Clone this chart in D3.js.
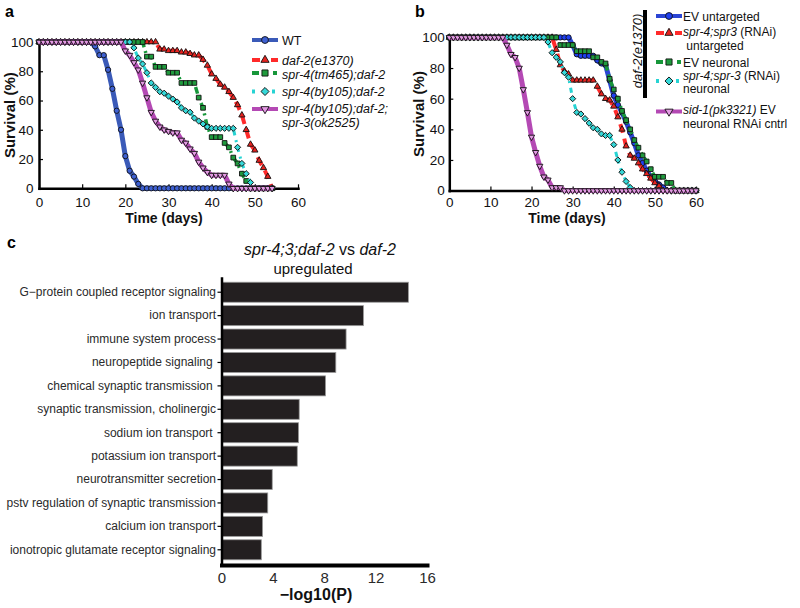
<!DOCTYPE html>
<html><head><meta charset="utf-8">
<script src="https://cdn.jsdelivr.net/npm/d3@7"></script>
<style>
body{margin:0;background:#fff}
svg text{font-family:"Liberation Sans",Arial,Helvetica,sans-serif;white-space:pre}
</style>
</head><body>
<svg id="fig" width="800" height="608"></svg>
<script>
// ---------------- DATA ----------------
const xTicks = [0, 10, 20, 30, 40, 50, 60];
const yTicks = [0, 20, 40, 60, 80, 100];

// Panel a: survival (%) per day, day index = position (day 0 .. 54)
const wtA = [
 100,100,100,100,100,100,100,100,100,100,
 100,100,100, 97, 91, 91, 81, 68, 53, 40,
  22, 12,  8,  3,  0,  0,  0,  0,  0,  0,
   0,  0,  0,  0,  0,  0,  0,  0,  0,  0,
   0,  0,  0,  0,  0,  0,  0,  0,  0,  0,
   0,  0,  0,  0,  0];
const daf2A = [
 100,100,100,100,100,100,100,100,100,100,
 100,100,100,100,100,100,100,100,100,100,
 100,100,100,100,100,100,100,100, 95, 95,
  94, 94, 94, 93, 93, 92, 91, 91, 88, 84,
  78, 75, 71, 69, 66, 62, 57, 50, 40, 30,
  26, 19, 14,  8,  0];
const tm465A = [
 100,100,100,100,100,100,100,100,100,100,
 100,100,100,100,100,100,100,100,100,100,
 100,100,100,100,100, 90, 90, 83, 83, 83,
  79, 79, 79, 72, 72, 72, 72, 62, 55, 42,
  35, 35, 35, 31, 28, 21, 17, 10,  5,  0,
   0,  0,  0,  0,  0];
const by105A = [
 100,100,100,100,100,100,100,100,100,100,
 100,100,100,100,100,100,100,100,100,100,
 100,100, 96, 89, 85, 79, 72, 69, 66, 65,
  63, 61, 59, 55, 53, 52, 48, 46, 44, 42,
  41, 41, 41, 41, 41, 41, 28, 17, 10,  4,
   0,  0,  0,  0,  0];
const spr3A = [
 100,100,100,100,100,100,100,100,100,100,
 100,100,100,100,100,100,100,100,100,100,
  94, 91, 86, 81, 72, 62, 52, 46, 42, 40,
  39, 38, 38, 33, 31, 27, 24, 18, 14, 11,
   9,  9,  9,  9,  3,  0,  0,  0,  0,  0,
   0,  0,  0,  0,  0];

// Panel b: survival (%) per day (day 0 .. 60)
const evUntargetedB = [
 100,100,100,100,100,100,100,100,100,100,
 100,100,100,100,100,100,100,100,100,100,
 100,100,100,100,100,100,100,100,100,100,
  95, 89, 88, 88, 88, 88, 85, 83, 82, 72,
  62, 56, 51, 45, 38, 31, 23, 18, 13,  9,
   6,  4,  2,  0,  0,  0,  0,  0,  0,  0, 0];
const sprUntargetedB = [
 100,100,100,100,100,100,100,100,100,100,
 100,100,100,100,100,100,100,100,100,100,
 100,100,100,100,100,100, 92, 82, 78, 76,
  72, 72, 72, 72, 72, 72, 68, 63, 60, 59,
  55, 48, 40, 29, 23, 21, 18, 14, 11,  8,
   5,  3,  0,  0,  0,  0,  0,  0,  0,  0, 0];
const evNeuronalB = [
 100,100,100,100,100,100,100,100,100,100,
 100,100,100,100,100,100,100,100,100,100,
 100,100,100,100,100,100,100, 95, 95, 95,
  95, 91, 91, 91, 91, 87, 87, 84, 83, 73,
  66, 60, 52, 46, 40, 33, 28, 23, 19, 14,
   9,  9,  9,  5,  5,  0,  0,  0,  0,  0, 0];
const sprNeuronalB = [
 100,100,100,100,100,100,100,100,100,100,
 100,100,100,100,100,100,100,100,100,100,
 100,100,100,100, 97, 90, 87, 84, 77, 74,
  60, 51, 50, 47, 44, 41, 40, 37, 36, 36,
  30, 20, 12,  6,  2,  0,  0,  0,  0,  0,
   0,  0,  0,  0,  0,  0,  0,  0,  0,  0, 0];
const sid1B = [
 100,100,100,100,100,100,100,100,100,100,
 100,100,100,100, 95, 89, 87, 80, 66, 51,
  35, 25, 16,  9,  7,  2,  2,  2,  0,  0,
   0,  0,  0,  0,  0,  0,  0,  0,  0,  0,
   0,  0,  0,  0,  0,  0,  0,  0,  0,  0,
   0,  0,  0,  0,  0,  0,  0,  0,  0,  0, 0];

const legendA = [["WT"], ["*daf-2(e1370)*"], ["*spr-4(tm465);daf-2*"], ["*spr-4(by105);daf-2*"],
                 ["*spr-4(by105);daf-2;*", "*spr-3(ok2525)*"]];
const legendB = [["EV untargeted"], ["*spr-4;spr3* (RNAi)", " untargeted"], ["EV neuronal"],
                 ["*spr-4;spr-3* (RNAi)", "neuronal"], ["*sid-1(pk3321)* EV", "neuronal RNAi cntrl"]];
const bracketLabel = "*daf-2(e1370)*";

// Panel c
const goTerms = [
 "G\u2212protein coupled receptor signaling", "ion transport", "immune system process",
 "neuropeptide signaling ", "chemical synaptic transmission ", "synaptic transmission, cholinergic",
 "sodium ion transport ", "potassium ion transport", "neurotransmitter secretion",
 "pstv regulation of synaptic transmission", "calcium ion transport", "ionotropic glutamate receptor signaling"];
const goValues = [14.55, 11.05, 9.7, 8.9, 8.1, 6.05, 6.0, 5.9, 3.95, 3.6, 3.2, 3.1];
const cTicks = [0, 4, 8, 12, 16];

// ---------------- DRAWING ----------------
const svg = d3.select("#fig");
const K = "#111";

function rich(sel, str) {
  str.split("*").forEach((p, i) => {
    if (p.length) sel.append("tspan").attr("font-style", i % 2 ? "italic" : "normal").text(p);
  });
}
function styleAxis(sel, fs, dw) {
  sel.attr("font-family", null).attr("font-size", null);
  sel.select(".domain").attr("stroke", "#000").attr("stroke-width", dw).attr("stroke-linecap", "square");
  sel.selectAll(".tick line").attr("stroke", "#000").attr("stroke-width", 1.2);
  sel.selectAll(".tick text").attr("font-size", fs).attr("fill", K);
}

function mkStyles(cols) {
  return [
    {line: cols[0], fill: cols[1], sym: d3.symbolCircle, size: 22, w: 5, dash: null, legDash: null},
    {line: "#ff2a2a", fill: "#e6221e", sym: d3.symbolTriangle, size: 17, w: 4, dash: "9,6", legDash: "8,11,8"},
    {line: "#17973a", fill: "#1f9a3d", sym: d3.symbolSquare, size: 22, w: 3.5, dash: "7,4,2,4", legDash: "7,14,4"},
    {line: "#27d3d3", fill: "#35d8d8", sym: d3.symbolSquare, size: 19, w: 3, dash: "5,5,2,5", legDash: "3,17,3", rot: 45},
    {line: "#b449b4", fill: "#e49ae4", sym: d3.symbolTriangle, size: 17, w: 5, dash: null, legDash: null, rot: 180}
  ];
}

function marker(g, st, cx, cy, scale) {
  g.append("path")
    .attr("transform", `translate(${cx},${cy})` + (st.rot ? ` rotate(${st.rot})` : ""))
    .attr("d", d3.symbol(st.sym, st.size * (scale || 1))())
    .attr("fill", st.fill).attr("stroke", K).attr("stroke-width", 0.9);
}

function survivalPanel(o) {
  const g = svg.append("g");
  const x = d3.scaleLinear().domain([0, 60]).range([o.x0, o.x1]);
  const y = d3.scaleLinear().domain([0, 100]).range([o.y0, o.y1]);

  g.append("g").attr("transform", `translate(0,${o.y0})`)
    .call(d3.axisBottom(x).tickValues(xTicks).tickSizeInner(-4).tickSizeOuter(0).tickPadding(o.xpad))
    .call(s => styleAxis(s, 13.5, 2.5));
  g.append("g").attr("transform", `translate(${o.x0},0)`)
    .call(d3.axisLeft(y).tickValues(yTicks).tickSizeInner(-4).tickSizeOuter(0).tickPadding(o.ypad))
    .call(s => styleAxis(s, 13.5, 2.5));

  const line = d3.line().x((d, i) => x(i)).y(d => y(d));
  o.series.forEach((vals, k) => {
    const st = o.styles[k];
    g.append("path").attr("d", line(vals)).attr("fill", "none")
      .attr("stroke", st.line).attr("stroke-width", st.w)
      .attr("stroke-dasharray", st.dash).attr("stroke-linejoin", "round");
    const mg = g.append("g");
    vals.forEach((v, i) => marker(mg, st, x(i), y(v)));
  });

  g.append("text").attr("x", o.tx).attr("y", o.ty).attr("text-anchor", "middle")
    .attr("font-size", 14).attr("font-weight", "bold").attr("fill", K).text("Time (days)");
  g.append("text").attr("transform", `translate(${o.sx},${(o.y0 + o.y1) / 2}) rotate(-90)`)
    .attr("text-anchor", "middle").attr("dy", "0.35em")
    .attr("font-size", 15).attr("font-weight", "bold").attr("fill", K).text("Survival (%)");
  g.append("text").attr("x", o.lx).attr("y", 17).attr("font-size", 16).attr("font-weight", "bold").text(o.letter);

  // legend
  const lg = svg.append("g");
  o.legend.forEach((lines, k) => {
    const st = o.styles[k];
    const ly = o.legY[k];
    lg.append("line").attr("x1", o.legX0).attr("x2", o.legX0 + 26).attr("y1", ly).attr("y2", ly)
      .attr("stroke", st.line).attr("stroke-width", 4).attr("stroke-dasharray", st.legDash);
    marker(lg, st, o.legX0 + 13, ly, 1.7);
    lines.forEach((t, j) => {
      const tx = lg.append("text").attr("x", o.legTX).attr("y", o.legTY[k][j])
        .attr("font-size", o.legFS).attr("fill", K);
      rich(tx, t);
    });
  });
}

survivalPanel({
  letter: "a", lx: 5, x0: 39, x1: 298, y0: 188.3, y1: 42, xpad: 9, ypad: 5.5,
  tx: 164, ty: 223, sx: 9.5,
  series: [wtA, daf2A, tm465A, by105A, spr3A],
  styles: mkStyles(["#3a5ab8", "#3e60d2"]),
  legend: legendA, legX0: 252, legTX: 282, legFS: 12.5,
  legY: [40, 60, 73, 91.5, 109],
  legTY: [[44.5], [64.5], [78.5], [96], [113, 127]]
});

survivalPanel({
  letter: "b", lx: 415, x0: 449.3, x1: 696, y0: 190.6, y1: 37.4, xpad: 6.5, ypad: 4.5,
  tx: 567, ty: 223, sx: 419,
  series: [evUntargetedB, sprUntargetedB, evNeuronalB, sprNeuronalB, sid1B],
  styles: mkStyles(["#2b45d4", "#1e3ff0"]),
  legend: legendB, legX0: 656, legTX: 683, legFS: 12,
  legY: [16, 33, 62, 81, 111.5],
  legTY: [[20.5], [36, 49.5], [66.5], [79.5, 93], [114, 127.5]]
});

// bracket for daf-2(e1370)
svg.append("line").attr("x1", 645).attr("x2", 645).attr("y1", 10).attr("y2", 98)
  .attr("stroke", "#000").attr("stroke-width", 4);
{
  const t = svg.append("text").attr("transform", "translate(637,51) rotate(-90)")
    .attr("text-anchor", "middle").attr("dy", "0.35em").attr("font-size", 13).attr("fill", K);
  rich(t, bracketLabel);
}

// ---------------- PANEL C ----------------
{
  const g = svg.append("g");
  const x = d3.scaleLinear().domain([0, 16]).range([221.5, 427]);
  const y = d3.scaleBand().domain(goTerms).range([278, 564]).paddingInner(0.145).paddingOuter(0.18);

  g.selectAll("rect").data(goTerms).join("rect")
    .attr("x", x(0)).attr("y", d => y(d))
    .attr("width", (d, i) => x(goValues[i]) - x(0)).attr("height", y.bandwidth())
    .attr("fill", "#231f20").attr("stroke", "#9a9a9a").attr("stroke-width", 0.8);

  g.append("g").attr("transform", `translate(${x(0)},0)`)
    .call(d3.axisLeft(y).tickSizeInner(4).tickSizeOuter(0).tickPadding(1.5))
    .call(s => styleAxis(s, 12, 2.5))
    .call(s => s.selectAll(".tick text").attr("fill", "#2a2a2a"));
  g.append("g").attr("transform", "translate(0,565)")
    .call(d3.axisBottom(x).tickValues(cTicks).tickSize(0).tickPadding(7))
    .call(s => styleAxis(s, 15, 4))
    .call(s => s.selectAll(".tick text").attr("fill", "#2a2a2a"));

  g.append("text").attr("x", 316).attr("y", 600).attr("text-anchor", "middle")
    .attr("font-size", 16).attr("font-weight", "bold").attr("fill", K).text("\u2212log10(P)");
  const t1 = g.append("text").attr("x", 320).attr("y", 255).attr("text-anchor", "middle")
    .attr("font-size", 16).attr("fill", K);
  rich(t1, "*spr-4;3;daf-2* vs *daf-2*");
  g.append("text").attr("x", 313).attr("y", 274).attr("text-anchor", "middle")
    .attr("font-size", 15).attr("fill", K).text("upregulated");
  g.append("text").attr("x", 7).attr("y", 248).attr("font-size", 16).attr("font-weight", "bold").text("c");
}
</script>
</body></html>
